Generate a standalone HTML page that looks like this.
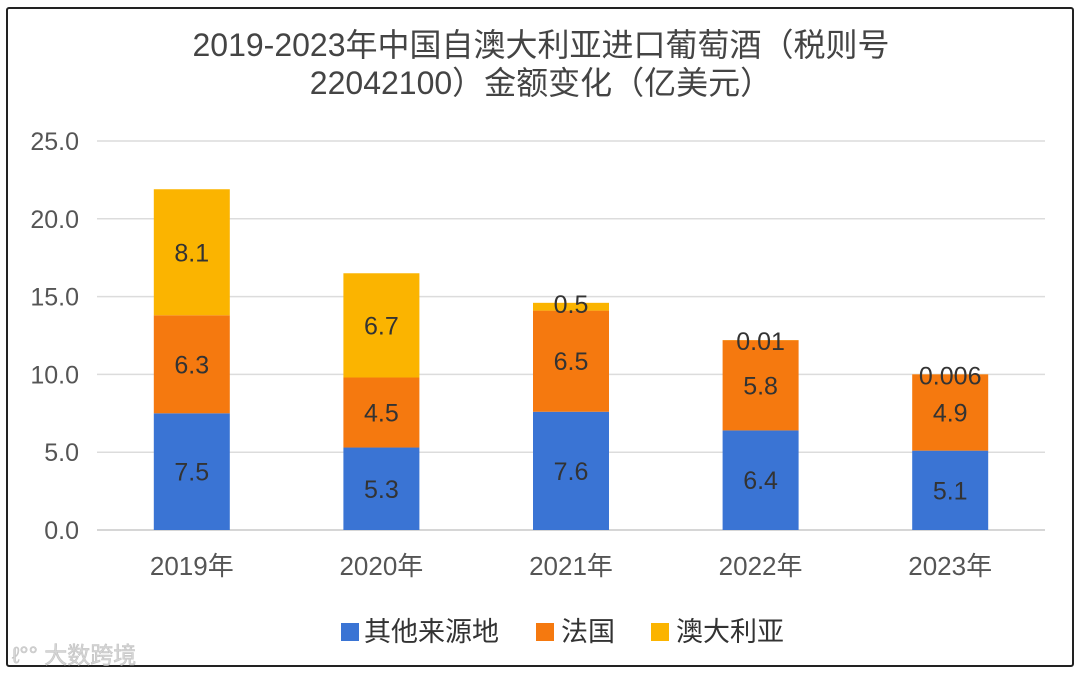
<!DOCTYPE html>
<html><head><meta charset="utf-8"><style>
html,body{margin:0;padding:0;background:#fff;}
body{width:1080px;height:674px;overflow:hidden;font-family:"Liberation Sans","Noto Sans CJK SC",sans-serif;}
</style></head><body>
<svg id="chart" width="1080" height="674" xmlns="http://www.w3.org/2000/svg" font-family="Liberation Sans, Noto Sans CJK SC, sans-serif">
<rect x="7" y="8" width="1066" height="658" rx="2" fill="#fff" stroke="#222" stroke-width="2"/>
<text x="541" y="56" text-anchor="middle" font-size="32" fill="#444">2019-2023年中国自澳大利亚进口葡萄酒（税则号</text>
<text x="541" y="94" text-anchor="middle" font-size="32" fill="#444">22042100）金额变化（亿美元）</text>
<g id="grid"></g><g id="bars"></g><g id="labels"></g>
<g font-size="27" fill="#333">
<rect x="341" y="623" width="18" height="18" fill="#3a74d4"/>
<text x="364" y="641">其他来源地</text>
<rect x="536" y="623" width="18" height="18" fill="#f5790f"/>
<text x="561" y="641">法国</text>
<rect x="651" y="623" width="18" height="18" fill="#fbb400"/>
<text x="676" y="641">澳大利亚</text>
</g>
<text x="12" y="663" font-size="23" fill="#d6d6d6" stroke="#c4c4c4" stroke-width="0.6">ℓ°° 大数跨境</text>
</svg>
<script>
const categories=["2019年","2020年","2021年","2022年","2023年"];
const otherVals=[7.5,5.3,7.6,6.4,5.1];
const franceVals=[6.3,4.5,6.5,5.8,4.9];
const ausVals=[8.1,6.7,0.5,0.01,0.006];
const otherLabels=["7.5","5.3","7.6","6.4","5.1"];
const franceLabels=["6.3","4.5","6.5","5.8","4.9"];
const ausLabels=["8.1","6.7","0.5","0.01","0.006"];
const yTicks=[0,5,10,15,20,25];
const NS="http://www.w3.org/2000/svg";
const x0=97,x1=1045,yBase=530,pxPerUnit=(530-141)/25;
const band=(x1-x0)/categories.length,bw=76;
const y=v=>yBase-v*pxPerUnit;
const cx=i=>x0+band*(i+0.5);
function mk(tag,attrs,parent,txt){const e=document.createElementNS(NS,tag);for(const k in attrs)e.setAttribute(k,attrs[k]);if(txt!==undefined)e.textContent=txt;parent.appendChild(e);return e;}
const grid=document.getElementById('grid'),bars=document.getElementById('bars'),labels=document.getElementById('labels');
yTicks.forEach(t=>{
 const l=mk('line',{x1:x0,x2:x1,y1:y(t),y2:y(t),stroke:t===0?'#c8c8c8':'#dcdcdc','stroke-width':1.5},grid);
 
 
 const tx=mk('text',{x:79,y:y(t)+9,'text-anchor':'end','font-size':25,fill:'#555'},grid,t.toFixed(1));
 
 
});
const series=[[otherVals,otherLabels,'#3a74d4','other'],[franceVals,franceLabels,'#f5790f','france'],[ausVals,ausLabels,'#fbb400','australia']];
categories.forEach((c,i)=>{
 let acc=0;
 series.forEach(([vals,labs,col,nm])=>{
  const v=vals[i],top=acc+v;
  const r=mk('rect',{x:cx(i)-bw/2,y:y(top),width:bw,height:y(acc)-y(top),fill:col},bars);
  
  
  const small=v<1;
  const ly=small?y(top)+10:(y(acc)+y(top))/2+9;
  const t=mk('text',{x:cx(i),y:ly,'text-anchor':'middle','font-size':25,fill:'#333'},labels,labs[i]);
  
  
  acc=top;
 });
 const xl=mk('text',{x:cx(i),y:575,'text-anchor':'middle','font-size':26,fill:'#555'},labels,c);
 
 
});
</script>
</body></html>
